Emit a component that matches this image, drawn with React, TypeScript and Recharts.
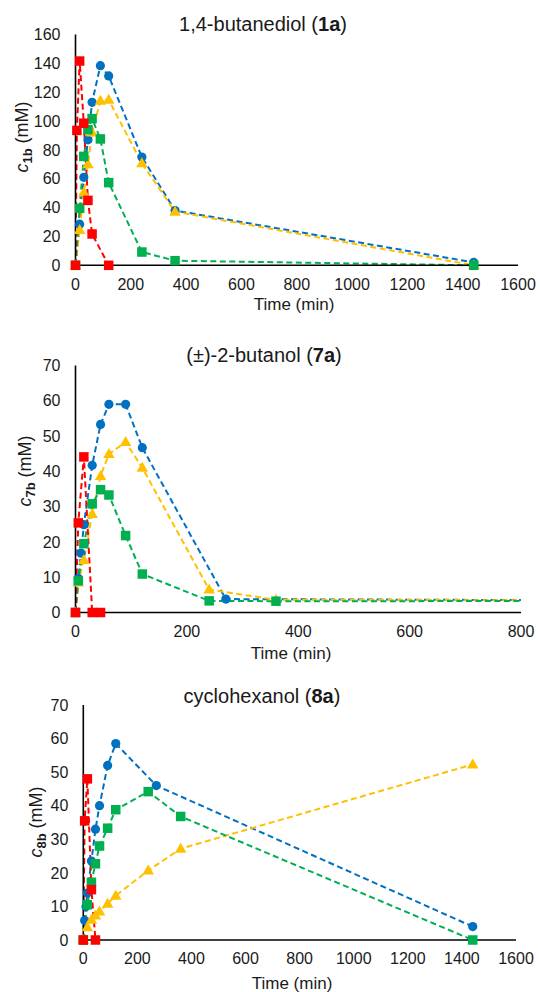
import React from 'react';
import { LineChart, Line, XAxis, YAxis } from 'recharts';

// ---------- data ----------
// Panel 1: 1,4-butanediol (1a)
const bdBlueT = [0, 15, 30, 45, 60, 90, 120, 240, 360, 1440];
const bdBlueV = [0, 28.5, 61, 87, 113, 138.4, 131.3, 75, 38, 2];
const bdYellowT = [0, 15, 30, 45, 60, 90, 120, 240, 360, 1440];
const bdYellowV = [0, 24.5, 50.5, 70, 92, 114, 114.7, 70.7, 37.2, 0];
const bdGreenT = [0, 15, 30, 45, 60, 90, 120, 240, 360, 1440];
const bdGreenV = [0, 39.5, 75.5, 94, 101.7, 87.6, 57.3, 9.2, 3.2, 0];
const bdRedT = [0, 5, 15, 30, 45, 60, 120];
const bdRedV = [0, 93.5, 141.6, 98.5, 45, 21.7, 0];

// Panel 2: (±)-2-butanol (7a)
const buBlueT = [0, 5, 10, 15, 30, 45, 60, 90, 120, 270, 1440];
const buBlueV = [0, 9.6, 16.8, 24.9, 41.7, 53.3, 59, 59, 46.7, 3.8, 3.2];
const buYellowT = [0, 5, 15, 30, 45, 60, 90, 120, 240, 360, 1440];
const buYellowV = [0, 8.5, 14.9, 27.9, 38.7, 44.9, 48.3, 41, 6.5, 3.6, 3.3];
const buGreenT = [0, 5, 15, 30, 45, 60, 90, 120, 240, 360, 1440];
const buGreenV = [0, 9, 19.5, 30.8, 34.8, 33.3, 21.8, 10.9, 3.3, 3.2, 3.3];
const buRedT = [0, 5, 15, 30, 45];
const buRedV = [0, 25.4, 44.1, 0, 0];

// Panel 3: cyclohexanol (8a)
const chBlueT = [0, 5, 10, 15, 30, 45, 60, 90, 120, 270, 1440];
const chBlueV = [0, 5.8, 10, 14, 23.5, 33, 40, 52, 58.5, 46, 4];
const chYellowT = [0, 15, 30, 45, 60, 90, 120, 240, 360, 1440];
const chYellowV = [0, 3.8, 6, 7.3, 8.5, 10.8, 13.2, 20.7, 27.2, 52.3];
const chGreenT = [0, 15, 30, 45, 60, 90, 120, 240, 360, 1440];
const chGreenV = [0, 10.5, 17.2, 22.7, 28, 33.3, 38.8, 44.2, 36.8, 0];
const chRedT = [0, 5, 15, 30, 45];
const chRedV = [0, 35.5, 48, 15, 0];

const ticks1600 = [0, 200, 400, 600, 800, 1000, 1200, 1400, 1600];
const ticks800 = [0, 200, 400, 600, 800];
const ticks160 = [0, 20, 40, 60, 80, 100, 120, 140, 160];
const ticks70 = [0, 10, 20, 30, 40, 50, 60, 70];

// ---------- styling ----------
const FONT = "'Liberation Sans', Arial, sans-serif";
const BLUE = '#0070C0';
const YELLOW = '#FFC000';
const GREEN = '#00B050';
const RED = '#FF0000';

type Pt = { t: number; v: number };
const zip = (t: number[], v: number[]): Pt[] => t.map((x, i) => ({ t: x, v: v[i] }));

type Shape = 'circle' | 'square' | 'triangle';
type Ser = { name: string; color: string; shape: Shape; data: Pt[] };

const makeDot = (shape: Shape, color: string) => (props: any) => {
  const { cx, cy, index } = props;
  const k = `d-${index}`;
  if (cx == null || cy == null || isNaN(cx) || isNaN(cy)) return <g key={k} />;
  if (shape === 'circle') return <circle key={k} cx={cx} cy={cy} r={4.6} fill={color} stroke="none" />;
  if (shape === 'square') {
    const s = 9.5;
    return <rect key={k} x={cx - s / 2} y={cy - s / 2} width={s} height={s} fill={color} stroke="none" />;
  }
  const w = 11.5;
  const h = 10;
  return (
    <polygon
      key={k}
      points={`${cx},${cy - h * 0.6} ${cx + w / 2},${cy + h * 0.4} ${cx - w / 2},${cy + h * 0.4}`}
      fill={color}
      stroke="none"
    />
  );
};

type PanelProps = {
  top: number;
  height: number;
  plotLeft: number;
  plotRight: number;
  plotTop: number;
  plotBottom: number;
  xMax: number;
  xTicks: number[];
  yMax: number;
  yTicks: number[];
  series: Ser[];
};

function Panel(p: PanelProps) {
  const margin = {
    top: p.plotTop - p.top,
    right: 540 - p.plotRight,
    left: 0,
    bottom: p.top + p.height - p.plotBottom - 40,
  };
  const elems: any[] = [];
  p.series.forEach((s) => {
    elems.push(
      <Line
        key={s.name + '-line'}
        xAxisId="line"
        data={s.data}
        dataKey="v"
        type="linear"
        stroke={s.color}
        strokeWidth={2}
        strokeDasharray="6 3.5"
        dot={false}
        activeDot={false}
        isAnimationActive={false}
      />
    );
    elems.push(
      <Line
        key={s.name + '-mk'}
        xAxisId="main"
        data={s.data.filter((d) => d.t <= p.xMax)}
        dataKey="v"
        type="linear"
        stroke="none"
        strokeWidth={0}
        dot={makeDot(s.shape, s.color)}
        activeDot={false}
        isAnimationActive={false}
      />
    );
  });
  return (
    <div style={{ position: 'absolute', left: 0, top: p.top }}>
      <LineChart width={540} height={p.height} margin={margin}>
        <XAxis
          xAxisId="main"
          type="number"
          dataKey="t"
          domain={[0, p.xMax]}
          ticks={p.xTicks}
          interval={0}
          tickLine={false}
          axisLine={{ stroke: '#000', strokeWidth: 1.6 }}
          tick={{ fontSize: 16, fill: '#1a1a1a', fontFamily: FONT }}
          tickMargin={7}
          height={40}
        />
        <XAxis
          xAxisId="line"
          type="number"
          dataKey="t"
          domain={[0, p.xMax]}
          allowDataOverflow
          hide
          orientation="top"
          height={0}
        />
        <YAxis
          type="number"
          domain={[0, p.yMax]}
          ticks={p.yTicks}
          interval={0}
          width={p.plotLeft}
          tickLine={false}
          axisLine={{ stroke: '#000', strokeWidth: 1.6 }}
          tick={{ fontSize: 16, fill: '#1a1a1a', fontFamily: FONT }}
          tickMargin={9}
        />
        {elems}
      </LineChart>
    </div>
  );
}

const centered = (cx: number, cy: number, size: number, rotate = false): React.CSSProperties => ({
  position: 'absolute',
  left: cx,
  top: cy,
  transform: `translate(-50%, -50%)${rotate ? ' rotate(-90deg)' : ''}`,
  fontFamily: FONT,
  fontSize: size,
  lineHeight: 1,
  whiteSpace: 'nowrap',
  color: '#1a1a1a',
});

const YLabel = ({ sub }: { sub: string }) => (
  <span>
    <i>c</i>
    <b style={{ fontSize: 13, position: 'relative', top: 4 }}>{sub}</b>
    {' (mM)'}
  </span>
);

export default function App() {
  const s1: Ser[] = [
    { name: 'blue', color: BLUE, shape: 'circle', data: zip(bdBlueT, bdBlueV) },
    { name: 'yellow', color: YELLOW, shape: 'triangle', data: zip(bdYellowT, bdYellowV) },
    { name: 'green', color: GREEN, shape: 'square', data: zip(bdGreenT, bdGreenV) },
    { name: 'red', color: RED, shape: 'square', data: zip(bdRedT, bdRedV) },
  ];
  const s2: Ser[] = [
    { name: 'blue', color: BLUE, shape: 'circle', data: zip(buBlueT, buBlueV) },
    { name: 'yellow', color: YELLOW, shape: 'triangle', data: zip(buYellowT, buYellowV) },
    { name: 'green', color: GREEN, shape: 'square', data: zip(buGreenT, buGreenV) },
    { name: 'red', color: RED, shape: 'square', data: zip(buRedT, buRedV) },
  ];
  const s3: Ser[] = [
    { name: 'blue', color: BLUE, shape: 'circle', data: zip(chBlueT, chBlueV) },
    { name: 'yellow', color: YELLOW, shape: 'triangle', data: zip(chYellowT, chYellowV) },
    { name: 'green', color: GREEN, shape: 'square', data: zip(chGreenT, chGreenV) },
    { name: 'red', color: RED, shape: 'square', data: zip(chRedT, chRedV) },
  ];
  return (
    <div style={{ position: 'absolute', left: 0, top: 0, width: 540, height: 992, background: '#fff', overflow: 'hidden' }}>
      <Panel top={0} height={320} plotLeft={75.5} plotRight={518} plotTop={34.5} plotBottom={265.3}
        xMax={1600} xTicks={ticks1600} yMax={160} yTicks={ticks160} series={s1} />
      <Panel top={330} height={330} plotLeft={75.5} plotRight={521} plotTop={365.5} plotBottom={612.5}
        xMax={800} xTicks={ticks800} yMax={70} yTicks={ticks70} series={s2} />
      <Panel top={665} height={327} plotLeft={83.3} plotRight={516} plotTop={705} plotBottom={940}
        xMax={1600} xTicks={ticks1600} yMax={70} yTicks={ticks70} series={s3} />

      <div style={centered(263, 24, 20)}>1,4-butanediol (<b>1a</b>)</div>
      <div style={centered(264, 355, 20)}>(±)-2-butanol (<b>7a</b>)</div>
      <div style={centered(262, 696, 20)}>cyclohexanol (<b>8a</b>)</div>

      <div style={centered(294, 304, 17)}>Time (min)</div>
      <div style={centered(291, 653, 17)}>Time (min)</div>
      <div style={centered(292, 983, 17)}>Time (min)</div>

      <div style={centered(22, 137, 18, true)}><YLabel sub="1b" /></div>
      <div style={centered(25, 471, 18, true)}><YLabel sub="7b" /></div>
      <div style={centered(36, 822, 18, true)}><YLabel sub="8b" /></div>
    </div>
  );
}
